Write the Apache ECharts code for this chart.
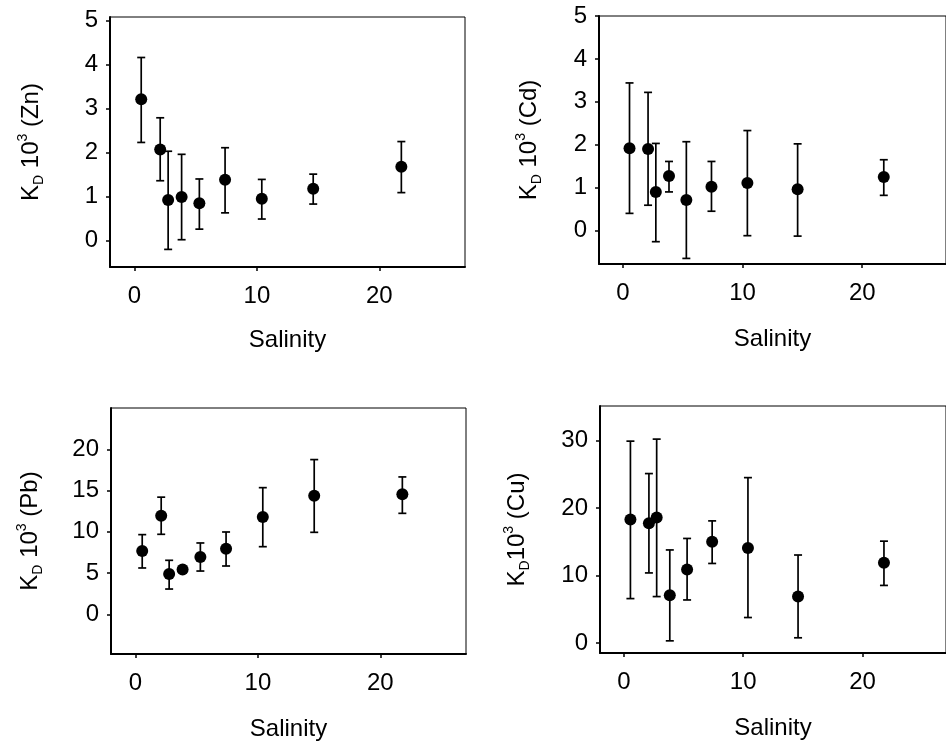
<!DOCTYPE html>
<html>
<head>
<meta charset="utf-8">
<script src="https://cdn.jsdelivr.net/npm/echarts@6/dist/echarts.min.js"></script>
<style>
  html, body { margin: 0; padding: 0; background: #fff; }
  #main { width: 946px; height: 747px; }
</style>
</head>
<body>
<div id="main"></div>
<script>
// salinity of the sampling stations (shared by the four panels)
var salinity = [0.55, 2.1, 2.75, 3.85, 5.3, 7.4, 10.4, 14.6, 21.8];

// KD x 10^3, mean and error bar ends
var znMean = [3.21, 2.07, 0.92, 0.99, 0.85, 1.38, 0.95, 1.18, 1.68];
var znHi   = [4.16, 2.79, 2.03, 1.96, 1.40, 2.11, 1.39, 1.51, 2.25];
var znLo   = [2.23, 1.36, -0.20, 0.02, 0.26, 0.63, 0.49, 0.83, 1.09];

var cdMean = [1.92, 1.90, 0.90, 1.27, 0.71, 1.02, 1.11, 0.96, 1.25];
var cdHi   = [3.44, 3.22, 2.03, 1.61, 2.07, 1.61, 2.33, 2.02, 1.65];
var cdLo   = [0.40, 0.59, -0.26, 0.90, -0.65, 0.45, -0.12, -0.13, 0.82];

var pbMean = [7.68, 11.96, 4.89, 5.45, 6.95, 7.96, 11.8, 14.38, 14.55];
var pbHi   = [9.66, 14.2, 6.55, null, 8.65, 9.98, 15.35, 18.75, 16.65];
var pbLo   = [5.62, 9.7, 3.07, null, 5.25, 5.86, 8.2, 9.94, 12.24];

var cuMean = [18.3, 17.75, 18.6, 7.1, 10.9, 15.0, 14.1, 6.9, 11.9];
var cuHi   = [29.9, 25.1, 30.2, 13.8, 15.5, 18.1, 24.5, 13.05, 15.1];
var cuLo   = [6.6, 10.4, 6.9, 0.35, 6.4, 11.8, 3.8, 0.8, 8.55];

// tick labels
var xTicks  = [0, 10, 20];
var znTicks = [0, 1, 2, 3, 4, 5];
var cdTicks = [0, 1, 2, 3, 4, 5];
var pbTicks = [0, 5, 10, 15, 20];
var cuTicks = [0, 10, 20, 30];

var FONT = 'Liberation Sans';
var FS = 24;

var panels = [
    {name: '{b|K}{sub|D}{b| 10}{sup|3}{b| (Zn)}', mean: znMean, hi: znHi, lo: znLo, ticks: znTicks,
        min: -0.6, max: 5.08, grid: {left: 110, top: 17, width: 355, height: 250}, yGap: 64, xGap: 61},
    {name: '{b|K}{sub|D}{b| 10}{sup|3}{b| (Cd)}', mean: cdMean, hi: cdHi, lo: cdLo, ticks: cdTicks,
        min: -0.78, max: 5, grid: {left: 599, top: 16, width: 355, height: 248}, yGap: 55, xGap: 63},
    {name: '{b|K}{sub|D}{b| 10}{sup|3}{b| (Pb)}', mean: pbMean, hi: pbHi, lo: pbLo, ticks: pbTicks,
        min: -4.8, max: 25, grid: {left: 111, top: 408, width: 355, height: 246}, yGap: 66, xGap: 63},
    {name: '{b|K}{sub|D}{b|10}{sup|3}{b| (Cu)}', mean: cuMean, hi: cuHi, lo: cuLo, ticks: cuTicks,
        min: -1.45, max: 35.1, grid: {left: 600, top: 406, width: 355, height: 247}, yGap: 68, xGap: 63}
];

var grids = [], xAxes = [], yAxes = [], series = [];

panels.forEach(function (p, i) {
    grids.push({
        left: p.grid.left, top: p.grid.top, width: p.grid.width, height: p.grid.height,
        show: true, borderColor: '#000', borderWidth: 1, backgroundColor: 'transparent'
    });
    xAxes.push({
        type: 'value', gridIndex: i, min: -2, max: 27,
        name: 'Salinity', nameLocation: 'middle', nameGap: p.xGap,
        nameTextStyle: {fontFamily: FONT, fontSize: FS, color: '#000'},
        splitLine: {show: false},
        axisLine: {onZero: false, lineStyle: {color: '#000', width: 2}},
        axisTick: {length: 4, lineStyle: {color: '#000', width: 1.5}, customValues: xTicks},
        axisLabel: {fontFamily: FONT, fontSize: FS, color: '#000', margin: 17, customValues: xTicks}
    });
    yAxes.push({
        type: 'value', gridIndex: i, min: p.min, max: p.max,
        name: p.name, nameLocation: 'middle', nameGap: p.yGap,
        nameTextStyle: {
            fontFamily: FONT, fontSize: FS, color: '#000',
            rich: {
                b: {fontFamily: FONT, fontSize: FS, color: '#000', lineHeight: 30, verticalAlign: 'middle'},
                sub: {fontFamily: FONT, fontSize: 14, color: '#000', lineHeight: 30, verticalAlign: 'bottom'},
                sup: {fontFamily: FONT, fontSize: 14, color: '#000', lineHeight: 30, verticalAlign: 'top'}
            }
        },
        splitLine: {show: false},
        axisLine: {onZero: false, lineStyle: {color: '#000', width: 2}},
        axisTick: {length: 4, lineStyle: {color: '#000', width: 1.5}, customValues: p.ticks},
        axisLabel: {fontFamily: FONT, fontSize: FS, color: '#000', margin: 12, customValues: p.ticks}
    });

    var errData = [], ptData = [];
    for (var k = 0; k < salinity.length; k++) {
        ptData.push([salinity[k], p.mean[k]]);
        if (p.hi[k] != null) errData.push([salinity[k], p.lo[k], p.hi[k]]);
    }
    series.push({
        type: 'custom', xAxisIndex: i, yAxisIndex: i, z: 2,
        data: errData,
        renderItem: function (params, api) {
            var x = api.value(0);
            var lo = api.coord([x, api.value(1)]);
            var hi = api.coord([x, api.value(2)]);
            var cap = 4;
            var st = {stroke: '#000', lineWidth: 1.7};
            return {
                type: 'group',
                children: [
                    {type: 'line', shape: {x1: hi[0], y1: hi[1], x2: lo[0], y2: lo[1]}, style: st},
                    {type: 'line', shape: {x1: hi[0] - cap, y1: hi[1], x2: hi[0] + cap, y2: hi[1]}, style: st},
                    {type: 'line', shape: {x1: lo[0] - cap, y1: lo[1], x2: lo[0] + cap, y2: lo[1]}, style: st}
                ]
            };
        }
    });
    series.push({
        type: 'scatter', xAxisIndex: i, yAxisIndex: i, z: 3,
        symbol: 'circle', symbolSize: 12,
        itemStyle: {color: '#000', opacity: 1},
        data: ptData
    });
});

var myChart = echarts.init(document.getElementById('main'));
myChart.setOption({
    animation: false,
    backgroundColor: '#fff',
    grid: grids,
    xAxis: xAxes,
    yAxis: yAxes,
    series: series
});
</script>
</body>
</html>
